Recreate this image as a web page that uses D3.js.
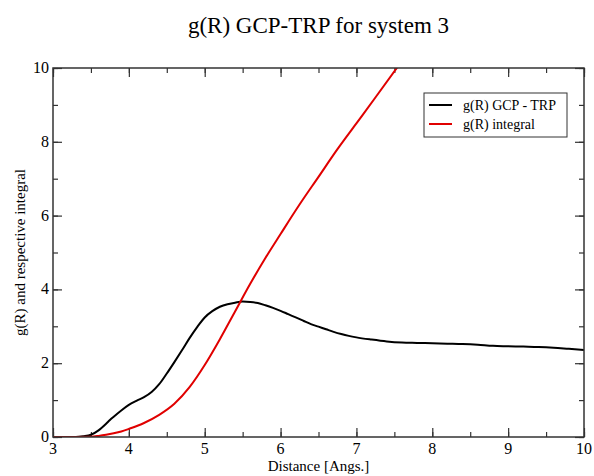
<!DOCTYPE html>
<html>
<head>
<meta charset="utf-8">
<script src="https://cdn.jsdelivr.net/npm/d3@7"></script>
<style>
  body { margin: 0; background: #fff; }
  text { font-family: "Liberation Serif", "Times New Roman", serif; }
</style>
</head>
<body>
<div id="chart"></div>
<script>
// data
var distance = [3.0, 3.3, 3.4, 3.5, 3.6, 3.7, 3.75, 3.8, 3.9, 4.0, 4.1, 4.2, 4.3, 4.4, 4.5,
    4.6, 4.7, 4.8, 4.9, 5.0, 5.1, 5.2, 5.3, 5.4, 5.5, 5.6, 5.7, 5.8, 5.9, 6.0, 6.1, 6.2,
    6.3, 6.4, 6.5, 6.6, 6.7, 6.8, 6.9, 7.0, 7.2, 7.4, 7.6, 7.8, 8.0, 8.2, 8.4, 8.6, 8.8,
    9.0, 9.2, 9.4, 9.6, 9.8, 10.0];
var gr = [0, 0, 0.02, 0.06, 0.18, 0.36, 0.46, 0.55, 0.72, 0.87, 0.98, 1.08, 1.22, 1.43, 1.72,
    2.03, 2.35, 2.68, 2.98, 3.24, 3.41, 3.53, 3.6, 3.64, 3.67, 3.66, 3.63, 3.57, 3.5, 3.42,
    3.33, 3.24, 3.15, 3.06, 2.99, 2.92, 2.85, 2.79, 2.74, 2.7, 2.64, 2.59, 2.56, 2.55, 2.54,
    2.53, 2.52, 2.5, 2.47, 2.46, 2.45, 2.44, 2.42, 2.39, 2.36];

var intDistance = [3.0, 3.5, 3.6, 3.7, 3.8, 3.9, 4.0, 4.2, 4.4, 4.6, 4.8, 5.0, 5.2, 5.4,
    5.6, 5.8, 6.0, 6.25, 6.5, 6.75, 7.0, 7.25, 7.55];
var grIntegral = [0, 0.01, 0.03, 0.06, 0.1, 0.15, 0.22, 0.38, 0.6, 0.9, 1.35, 1.95, 2.65, 3.4,
    4.15, 4.85, 5.5, 6.3, 7.05, 7.8, 8.5, 9.2, 10.05];

var xTicks = [3, 4, 5, 6, 7, 8, 9, 10];
var yTicks = [0, 2, 4, 6, 8, 10];
var seriesNames = ["g(R) GCP - TRP", "g(R) integral"];
var seriesColors = ["#000000", "#e00000"];

var width = 594, height = 476;
var margin = {top: 68, right: 10, bottom: 39, left: 53};
var w = width - margin.left - margin.right;
var h = height - margin.top - margin.bottom;

var svg = d3.select("#chart").append("svg")
    .attr("width", width)
    .attr("height", height);

var x = d3.scaleLinear().domain([3, 10]).range([0, w]);
var y = d3.scaleLinear().domain([0, 10]).range([h, 0]);

var g = svg.append("g").attr("transform", "translate(" + margin.left + "," + margin.top + ")");

g.append("clipPath").attr("id", "clip")
    .append("rect").attr("width", w).attr("height", h);

// ticks all round, pointing inward
var xMinor = d3.range(3, 10.01, 0.5);
var yMinor = d3.range(0, 10.01, 1);

function tickAxis(axisFn, scale, major, minor, pos) {
    var a = g.append("g").attr("transform", pos);
    a.call(axisFn(scale).tickValues(minor).tickSize(-5).tickFormat(""));
    var b = g.append("g").attr("transform", pos);
    b.call(axisFn(scale).tickValues(major).tickSize(-9).tickFormat(""));
    [a, b].forEach(function(s){
        s.select(".domain").remove();
        s.selectAll("line").attr("stroke", "#333").attr("stroke-width", 1.2);
    });
}
tickAxis(d3.axisBottom, x, xTicks, xMinor, "translate(0," + h + ")");
tickAxis(d3.axisTop, x, xTicks, xMinor, "translate(0,0)");
tickAxis(d3.axisLeft, y, yTicks, yMinor, "translate(0,0)");
tickAxis(d3.axisRight, y, yTicks, yMinor, "translate(" + w + ",0)");

// tick labels
g.selectAll(".xl").data(xTicks).enter().append("text")
    .attr("x", d => x(d)).attr("y", h + 17)
    .attr("text-anchor", "middle").attr("font-size", 16)
    .text(d => d);
g.selectAll(".yl").data(yTicks).enter().append("text")
    .attr("x", -4).attr("y", d => y(d) + 5)
    .attr("text-anchor", "end").attr("font-size", 16)
    .text(d => d);

var line = d3.line().x(d => x(d[0])).y(d => y(d[1])).curve(d3.curveMonotoneX);

g.append("path")
    .datum(d3.zip(distance, gr))
    .attr("clip-path", "url(#clip)")
    .attr("fill", "none").attr("stroke", seriesColors[0]).attr("stroke-width", 2)
    .attr("d", line);

g.append("path")
    .datum(d3.zip(intDistance, grIntegral))
    .attr("clip-path", "url(#clip)")
    .attr("fill", "none").attr("stroke", seriesColors[1]).attr("stroke-width", 2)
    .attr("d", line);

// frame
g.append("rect").attr("width", w).attr("height", h)
    .attr("fill", "none").attr("stroke", "#333").attr("stroke-width", 1.5);

// legend
var lg = svg.append("g").attr("transform", "translate(424,93)");
lg.append("rect").attr("width", 143).attr("height", 44)
    .attr("fill", "#fff").attr("stroke", "#333").attr("stroke-width", 1);
seriesNames.forEach(function(name, i){
    var yy = 12 + i * 19;
    lg.append("line").attr("x1", 5).attr("x2", 28).attr("y1", yy).attr("y2", yy)
        .attr("stroke", seriesColors[i]).attr("stroke-width", 2);
    lg.append("text").attr("x", 39).attr("y", yy + 5)
        .attr("font-size", 14).text(name);
});

// titles
svg.append("text")
    .attr("x", margin.left + w / 2).attr("y", 33)
    .attr("text-anchor", "middle").attr("font-size", 23)
    .text("g(R) GCP-TRP for system 3");
svg.append("text")
    .attr("x", margin.left + w / 2).attr("y", 471)
    .attr("text-anchor", "middle").attr("font-size", 15)
    .text("Distance [Angs.]");
svg.append("text")
    .attr("transform", "translate(25," + (margin.top + h / 2) + ") rotate(-90)")
    .attr("text-anchor", "middle").attr("font-size", 15)
    .text("g(R) and respective integral");
</script>
</body>
</html>
